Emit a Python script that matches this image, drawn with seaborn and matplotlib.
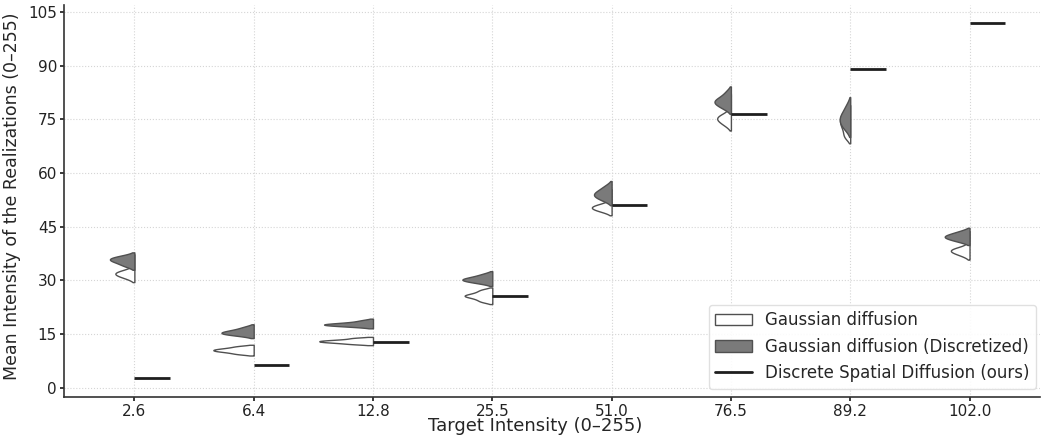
import numpy as np
import pandas as pd
import matplotlib
matplotlib.use("Agg")
import matplotlib.pyplot as plt
import seaborn as sns
from matplotlib.patches import Patch
from matplotlib.lines import Line2D

# ---------------- data ----------------
targets = ["2.6", "6.4", "12.8", "25.5", "51.0", "76.5", "89.2", "102.0"]

# Gaussian diffusion (continuous) - mean intensity of realizations
gauss_2_6 = [35.3, 35.7, 36.1, 30.7, 31.3, 31.7, 32.0, 32.3, 32.7]
gauss_6_4 = [9.4, 9.8, 10.1, 10.3, 10.5, 10.7, 10.9, 11.2, 11.6]
gauss_12_8 = [12.2, 12.5, 12.7, 12.85, 13.0, 13.15, 13.3, 13.55, 13.9]
gauss_25_5 = [24.0, 24.6, 25.1, 25.45, 25.7, 25.95, 26.3, 26.8, 27.4]
gauss_51_0 = [53.4, 53.9, 54.4, 49.3, 49.8, 50.2, 50.5, 50.8, 51.3]
gauss_76_5 = [79.2, 79.9, 80.6, 73.4, 74.3, 74.9, 75.4, 75.8, 76.4]
gauss_89_2 = [69.8, 71.0, 72.2, 73.2, 74.0, 74.8, 75.6, 76.5, 77.5]
gauss_102_0 = [41.6, 42.1, 42.6, 37.0, 37.7, 38.1, 38.4, 38.7, 39.1]

# Gaussian diffusion (discretized)
disc_2_6 = [33.9, 34.5, 35.0, 35.4, 35.7, 35.9, 36.2, 36.5, 36.9]
disc_6_4 = [14.6, 14.9, 15.1, 15.3, 15.5, 15.7, 16.0, 16.4, 17.0]
disc_12_8 = [17.1, 17.3, 17.5, 17.6, 17.7, 17.85, 18.0, 18.3, 18.8]
disc_25_5 = [29.2, 29.6, 29.9, 30.1, 30.3, 30.5, 30.8, 31.2, 31.8]
disc_51_0 = [52.3, 52.9, 53.4, 53.8, 54.1, 54.5, 55.0, 55.6, 56.5]
disc_76_5 = [78.0, 78.7, 79.3, 79.7, 80.0, 80.4, 80.9, 81.6, 82.8]
disc_89_2 = [72.2, 73.1, 73.9, 74.6, 75.2, 75.8, 76.6, 77.6, 79.1]
disc_102_0 = [40.8, 41.3, 41.7, 42.0, 42.2, 42.5, 42.8, 43.2, 43.8]

# Discrete Spatial Diffusion (ours)
dsd_means = [2.6, 6.4, 12.8, 25.5, 51.0, 76.5, 89.2, 102.0]

y_ticks = [0, 15, 30, 45, 60, 75, 90, 105]

gauss_all = [gauss_2_6, gauss_6_4, gauss_12_8, gauss_25_5,
             gauss_51_0, gauss_76_5, gauss_89_2, gauss_102_0]
disc_all = [disc_2_6, disc_6_4, disc_12_8, disc_25_5,
            disc_51_0, disc_76_5, disc_89_2, disc_102_0]

# styling
W_GAUSS = 0.45
W_DISC = 0.41


def long_form(groups, width):
    # split half-violins are anchored at pos + width/2 -> compensate
    rows = []
    for i, vals in enumerate(groups):
        for v in vals:
            rows.append({"pos": i - width / 2, "value": v})
    return pd.DataFrame(rows)


df_g = long_form(gauss_all, W_GAUSS)
df_d = long_form(disc_all, W_DISC)

# ---------------- plot ----------------
sns.set_theme(style="ticks")
plt.rcParams["font.family"] = ["DejaVu Sans"]

fig = plt.figure(figsize=(10.42, 4.42), dpi=100)
ax = fig.add_axes([0.0614, 0.1018, 0.9366, 0.887])

edge = "#505050"
gray = "#7a7a7a"
line_c = "#1e1e1e"

sns.violinplot(data=df_g, x="pos", y="value", native_scale=True,
               split=True, inner=None, color="white", linecolor=edge,
               linewidth=1.0, density_norm="area", cut=1.5, bw_adjust=0.6,
               width=W_GAUSS, saturation=1, ax=ax)
sns.violinplot(data=df_d, x="pos", y="value", native_scale=True,
               split=True, inner=None, color=gray, linecolor=edge,
               linewidth=1.0, density_norm="area", cut=1.5, bw_adjust=1.0,
               width=W_DISC, saturation=1, ax=ax)

for i, v in enumerate(dsd_means):
    ax.hlines(v, i, i + 0.3, color=line_c, lw=2.0, zorder=5)

ax.set_xticks(range(len(targets)))
ax.set_xticklabels(targets)
ax.set_xlim(-0.59, 7.59)
ax.set_ylim(-2.6, 107)
ax.set_yticks(y_ticks)
ax.grid(True, ls=":", lw=0.8, color="#d5d5d5")
ax.set_axisbelow(True)
sns.despine(ax=ax)
for s in ["left", "bottom"]:
    ax.spines[s].set_color("#333333")
    ax.spines[s].set_linewidth(1.2)
ax.tick_params(labelsize=11, colors="#222222", length=3, pad=2)

ax.set_xlabel("Target Intensity (0–255)", fontsize=13)
ax.set_ylabel("Mean Intensity of the Realizations (0–255)", fontsize=12.5)
ax.xaxis.set_label_coords(0.483, -0.052)
ax.yaxis.set_label_coords(-0.044, 0.511)

handles = [
    Patch(facecolor="white", edgecolor=edge, label="Gaussian diffusion"),
    Patch(facecolor=gray, edgecolor=edge, label="Gaussian diffusion (Discretized)"),
    Line2D([0], [0], color=line_c, lw=2.0, label="Discrete Spatial Diffusion (ours)"),
]
ax.legend(handles=handles, loc="lower right", bbox_to_anchor=(1.005, 0.0),
          fontsize=12, handlelength=2.2, frameon=True, framealpha=0.9,
          edgecolor="#dddddd")

fig.savefig("out.png", dpi=100)
